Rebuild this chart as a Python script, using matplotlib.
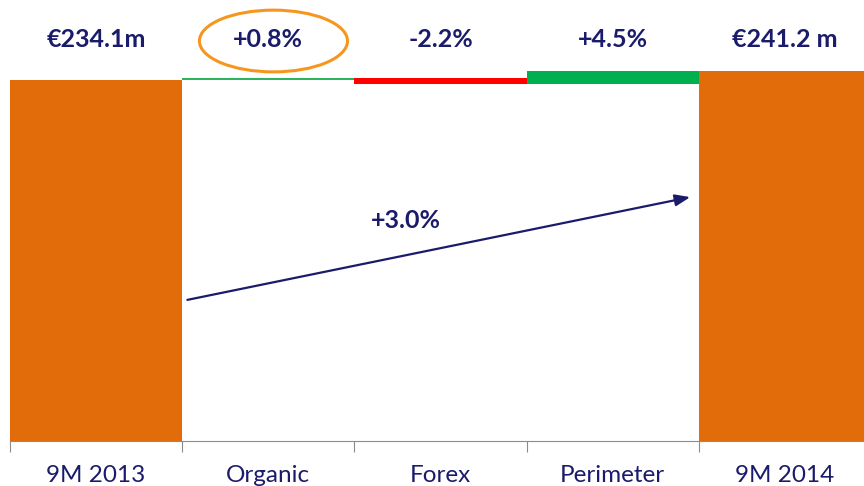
import matplotlib.pyplot as plt
from matplotlib.patches import Ellipse

# Data
categories = ['9M 2013', 'Organic', 'Forex', 'Perimeter', '9M 2014']
start_value = 234.1
end_value = 241.2
change_pct = [0.8, -2.2, 4.5]
top_labels = ['€234.1m', '+0.8%', '-2.2%', '+4.5%', '€241.2 m']

orange = '#E36C0A'
navy = '#1B1B6B'
step_colors = ['#2DB55D', '#FF0000', '#00B050']

plt.rcParams['font.family'] = ['Lato', 'DejaVu Sans']

fig = plt.figure(figsize=(8.64, 4.86), dpi=100)
ax = fig.add_axes([10 / 864, 45 / 486, 861 / 864, 441 / 486])

floor = -50.6
x = list(range(len(categories)))

# start and end totals
ax.bar(x[0], start_value - floor, bottom=floor, width=1.0, color=orange, edgecolor='none')
ax.bar(x[-1], end_value - floor, bottom=floor, width=1.0, color=orange, edgecolor='none')

# floating steps
level = start_value
for i, pct in enumerate(change_pct):
    delta = start_value * pct / 100
    bottom = level if delta >= 0 else level + delta
    ax.bar(x[i + 1], abs(delta), bottom=bottom, width=1.0, color=step_colors[i], edgecolor='none')
    level += delta

# labels above bars
for i, lab in enumerate(top_labels):
    ax.text(x[i], 0.91, lab, transform=ax.get_xaxis_transform(), ha='center', va='center',
            fontsize=18, fontweight='bold', color=navy)

# highlight around organic growth
ax.add_patch(Ellipse((x[1] + 0.03, 0.907), 0.86, 0.14, transform=ax.get_xaxis_transform(),
                     fill=False, edgecolor='#F7961E', linewidth=2.2, clip_on=False))

# overall growth arrow
total_pct = (end_value / start_value - 1) * 100
ax.annotate('', xy=(0.79, 0.553), xytext=(0.206, 0.320), xycoords='axes fraction',
            arrowprops=dict(arrowstyle='-|>,head_length=0.9,head_width=0.35',
                            color=navy, lw=1.6, shrinkA=0, shrinkB=0))
ax.text(0.46, 0.501, f'+{total_pct:.1f}%', transform=ax.transAxes, ha='center', va='center',
        fontsize=18, fontweight='bold', color=navy)

ax.set_xlim(-0.5, 4.5)
ax.set_ylim(floor, 297.2)

# axis styling
for side in ['top', 'right', 'left']:
    ax.spines[side].set_visible(False)
ax.spines['bottom'].set_color('#8C8C8C')
ax.set_yticks([])
ax.set_xticks([i - 0.5 for i in x])
ax.set_xticklabels([])
ax.tick_params(axis='x', which='major', length=8, color='#8C8C8C', direction='out')
ax.set_xticks(x, minor=True)
ax.set_xticklabels(categories, minor=True)
ax.tick_params(axis='x', which='minor', length=0, pad=17, labelsize=17.5, labelcolor=navy)

plt.savefig('out.png', dpi=100)
